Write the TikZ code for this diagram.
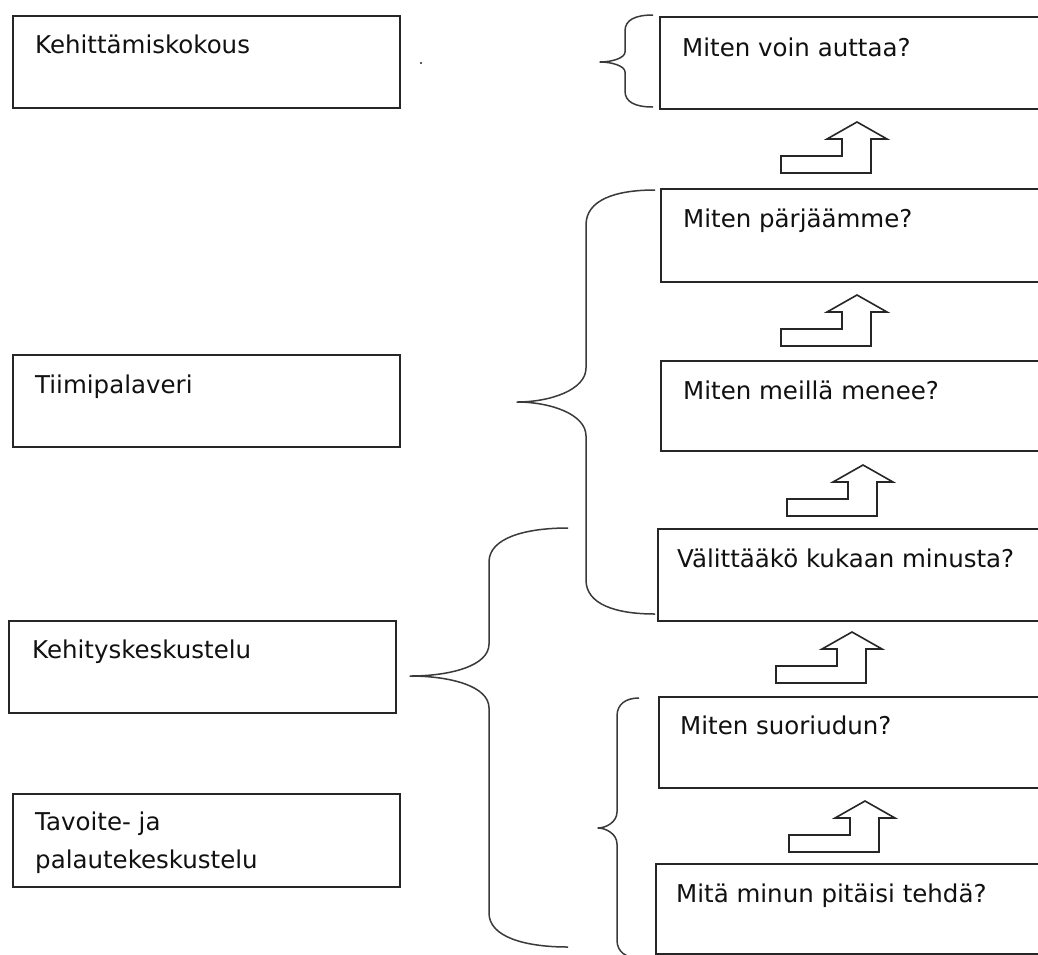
\documentclass[tikz,border=0pt]{standalone}
\usepackage{fontspec}
\setmainfont{DejaVu Sans}
\definecolor{linec}{HTML}{262626}
\definecolor{bracec}{HTML}{3A3A3A}
\definecolor{txtc}{HTML}{111111}
\begin{document}
\begin{tikzpicture}[x=1pt,y=-1pt,
  box/.style={draw=linec, line width=1.8pt, rectangle, inner sep=0pt, anchor=north west, minimum height=92pt},
  lbox/.style={box, minimum width=387pt},
  rbox/.style={box, minimum width=400pt},
  lbl/.style={anchor=base west, inner sep=0pt, text=txtc, font=\fontsize{24.5}{38}\selectfont},
  bracestyle/.style={draw=bracec, line width=1.5pt, line join=round},
  arrowline/.style={draw=linec, line width=1.6pt, line join=miter, fill=white},
  pics/steparrow/.style={code={
    \draw[arrowline] (0,0) -- (90,0) -- (90,-34) -- (106,-34) -- (76,-51) -- (46,-34) -- (61,-34) -- (61,-17) -- (0,-17) -- cycle;
  }}
]
\useasboundingbox (0,0) rectangle (1038,954);
\fill[white] (0,0) rectangle (1038,954);
\clip (0,0) rectangle (1038,954);

% left boxes
\node[lbox] (k1) at (12,15) {};
\node[lbox] (k2) at (12,354) {};
\node[lbox, minimum width=387pt] (k3) at (8,620) {};
\node[lbox, minimum height=93pt] (k4) at (12,793) {};
\node[lbl] (tk1) at ([xshift=23pt,yshift=-38pt]k1.north west) {Kehittämiskokous};
\node[lbl] (tk2) at ([xshift=23pt,yshift=-39pt]k2.north west) {Tiimipalaveri};
\node[lbl] (tk3) at ([xshift=24pt,yshift=-38pt]k3.north west) {Kehityskeskustelu};
\node[lbl] (tk4a) at ([xshift=23pt,yshift=-37pt]k4.north west) {Tavoite- ja};
\node[lbl] (tk4b) at ([xshift=23pt,yshift=-75pt]k4.north west) {palautekeskustelu};

% small dot
\fill[linec] (421,63) circle (1.2pt);

% right boxes
\node[rbox] (q1) at (659,16) {};
\node[rbox, minimum height=93pt] (q2) at (660,188) {};
\node[rbox, minimum height=90pt] (q3) at (660,360) {};
\node[rbox] (q4) at (657,528) {};
\node[rbox, minimum height=91pt] (q5) at (658,696) {};
\node[rbox, minimum height=90pt] (q6) at (655,863) {};
\node[lbl] (tq1) at ([xshift=23pt,yshift=-40pt]q1.north west) {Miten voin auttaa?};
\node[lbl] (tq2) at ([xshift=23pt,yshift=-39pt]q2.north west) {Miten pärjäämme?};
\node[lbl] (tq3) at ([xshift=23pt,yshift=-39pt]q3.north west) {Miten meillä menee?};
\node[lbl] (tq4) at ([xshift=20pt,yshift=-39pt]q4.north west) {Välittääkö kukaan minusta?};
\node[lbl] (tq5) at ([xshift=22pt,yshift=-38pt]q5.north west) {Miten suoriudun?};
\node[lbl] (tq6) at ([xshift=21pt,yshift=-39pt]q6.north west) {Mitä minun pitäisi tehdä?};

% step arrows
\pic at (781,173) {steparrow};
\pic at (781,346) {steparrow};
\pic at (787,516) {steparrow};
\pic at (776,683) {steparrow};
\pic at (789,852) {steparrow};

% braces
\draw[bracestyle] (653,15) .. controls (635,15) and (625,20) .. (625,31) -- (625,52)
  .. controls (625,58) and (612,62) .. (600,62)
  .. controls (612,62) and (625,66) .. (625,72) -- (625,91)
  .. controls (625,102) and (635,107) .. (653,107);

\draw[bracestyle] (655,190) .. controls (615,190) and (586,200) .. (586,225) -- (586,368)
  .. controls (586,390) and (550,402) .. (517,402)
  .. controls (550,402) and (586,414) .. (586,436) -- (586,580)
  .. controls (586,604) and (615,614) .. (655,614);

\draw[bracestyle] (568,528) .. controls (525,528) and (489,538) .. (489,562) -- (489,644)
  .. controls (489,666) and (450,676) .. (410,676)
  .. controls (450,676) and (489,686) .. (489,708) -- (489,913)
  .. controls (489,937) and (525,947) .. (568,947);

\draw[bracestyle] (639,698) .. controls (626,698) and (617,704) .. (617,716) -- (617,812)
  .. controls (617,822) and (606,828) .. (598,828)
  .. controls (606,828) and (617,834) .. (617,844) -- (617,940)
  .. controls (617,952) and (626,958) .. (639,958);
\end{tikzpicture}
\end{document}
